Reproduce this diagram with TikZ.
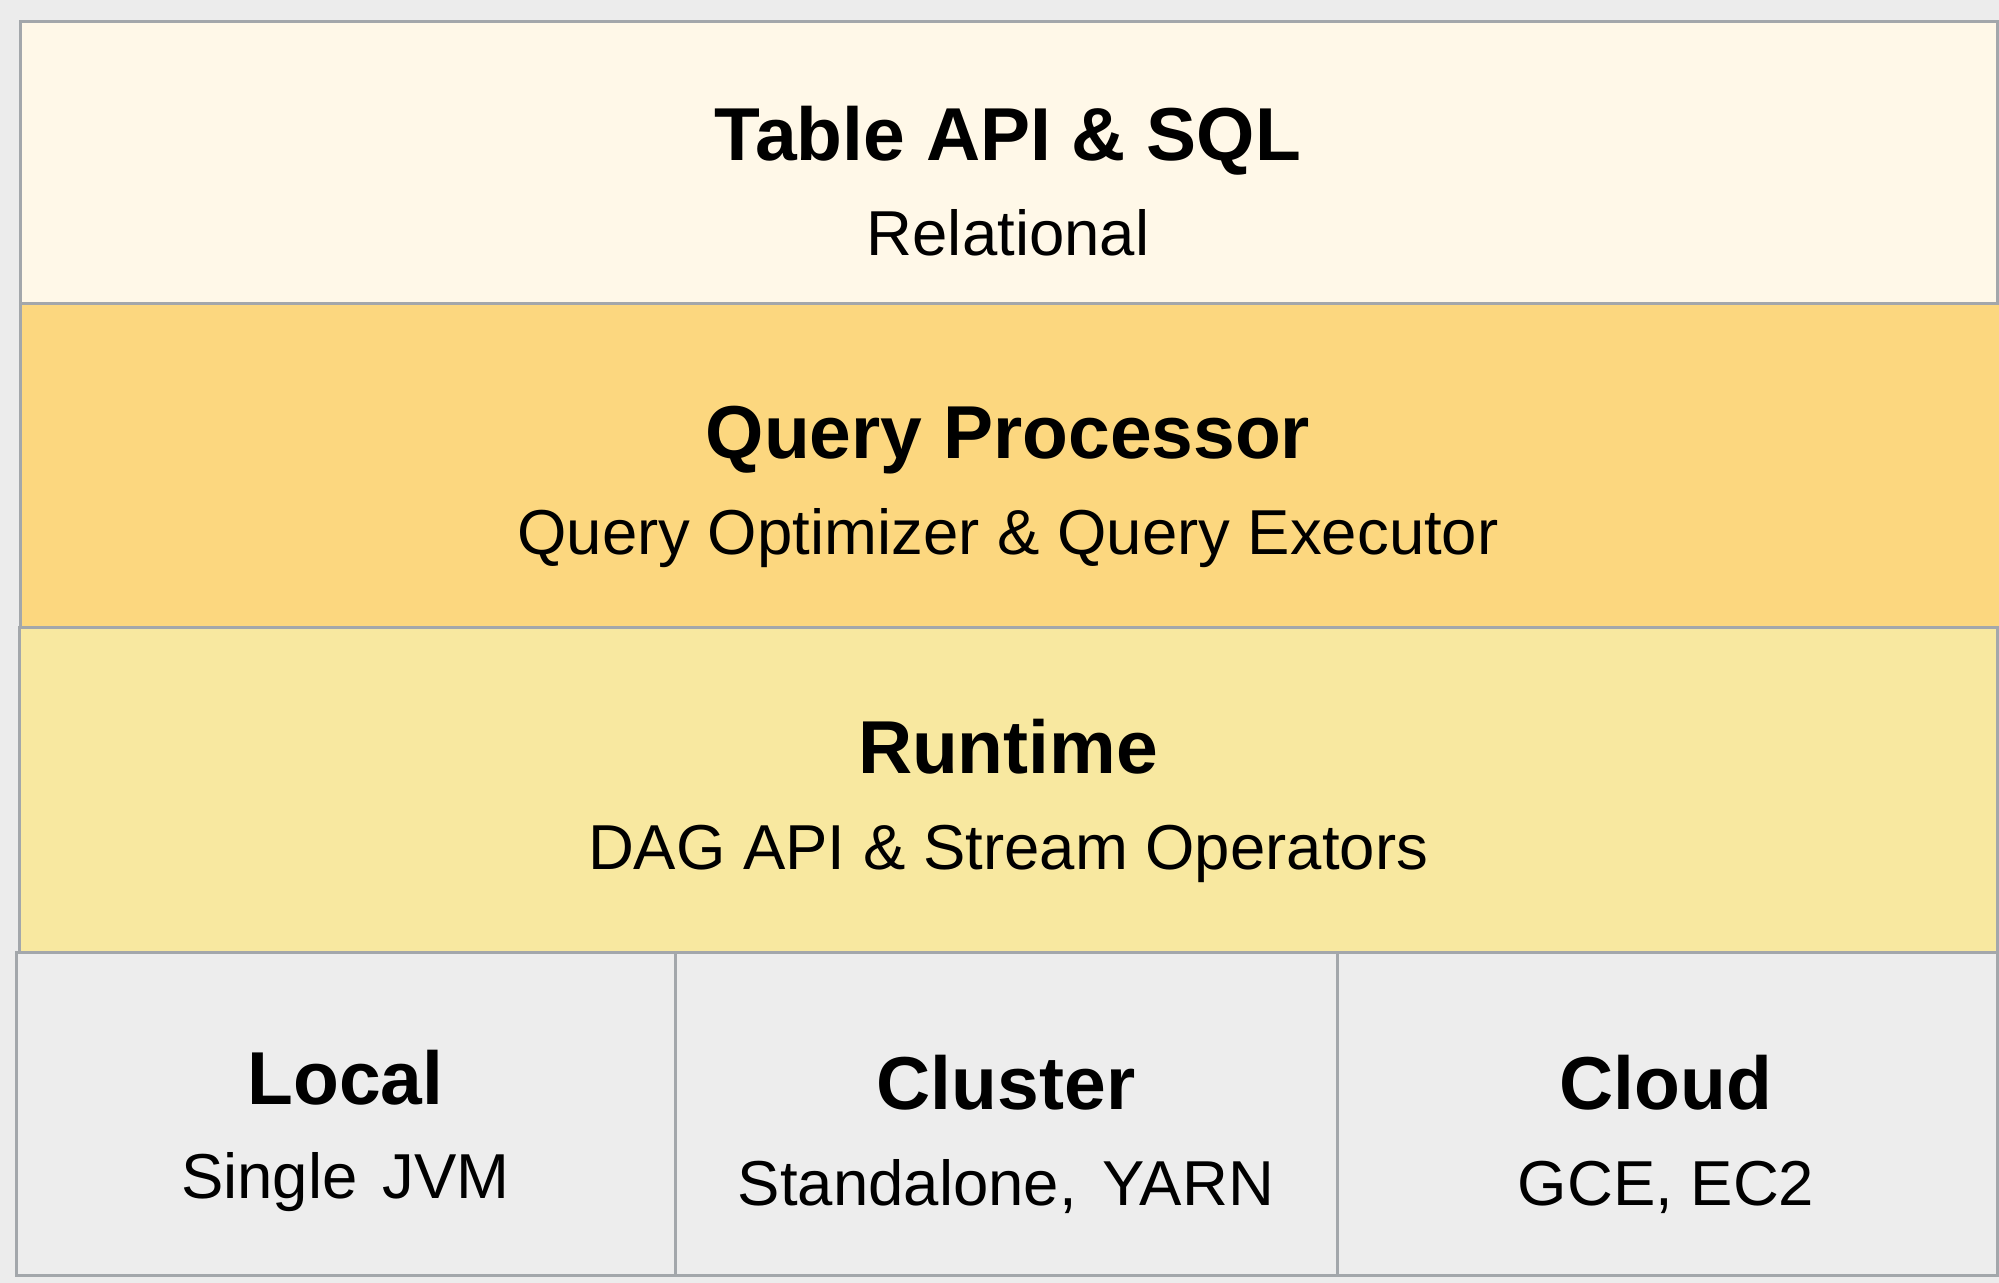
\documentclass[tikz,border=0pt]{standalone}
\usepackage{fontspec}
\setmainfont{Liberation Sans}
\usetikzlibrary{positioning}
\definecolor{fundo}{HTML}{ECECEC}
\definecolor{borda}{HTML}{A3A7AB}
\definecolor{creme}{HTML}{FFF8E8}
\definecolor{laranja}{HTML}{FCD77F}
\definecolor{amarelo}{HTML}{F8E8A0}
\definecolor{cinza}{HTML}{EDEDED}

\begin{document}
\begin{tikzpicture}[x=0.5pt,y=-0.5pt,
    camada/.style={draw=borda,line width=1.5pt,inner sep=0pt,outer sep=0pt,anchor=north west},
    titulo/.style={font=\fontsize{37.5}{45}\selectfont\bfseries,anchor=base,inner sep=0pt},
    subtitulo/.style={font=\fontsize{31.75}{38}\selectfont,anchor=base,inner sep=0pt}]
    % fundo
    \useasboundingbox (0,0) rectangle (1999,1283);
    \fill[fundo] (0,0) rectangle (1999,1283);

    % camadas
    \node[camada,fill=creme,minimum width=988.5pt,minimum height=141pt] (tabela) at (20,22) {};
    \node[camada,fill=laranja,minimum width=992pt,minimum height=162pt] (consulta) at (20,304) {};
    \node[camada,fill=amarelo,minimum width=989pt,minimum height=162pt] (runtime) at (19,628) {};

    \node[titulo] (tabelatit) at (1008,161) {Table API \& SQL};
    \node[subtitulo] (tabelasub) at (1008,256) {Relational};

    \node[titulo] (consultatit) at (1008,459) {Query Processor};
    \node[subtitulo] (consultasub) at (1008,555) {Query Optimizer \& Query Executor};

    \node[titulo] (runtimetit) at (1008,773) {Runtime};
    \node[subtitulo] (runtimesub) at (1008,869) {DAG API \& Stream Operators};

    % implantacao
    \node[camada,fill=cinza,minimum width=329.5pt,minimum height=161.5pt] (local) at (16,952) {};
    \node[camada,fill=cinza,minimum width=331pt,minimum height=161.5pt] (cluster) at (675,952) {};
    \node[camada,fill=cinza,minimum width=330pt,minimum height=161.5pt] (cloud) at (1337,952) {};

    \node[titulo] (localtit) at (345.5,1104) {Local};
    \node[subtitulo] (localsub) at (345.5,1198) {Single\hspace{0.4em}JVM};

    \node[titulo] (clustertit) at (1006,1109) {Cluster};
    \node[subtitulo] (clustersub) at (1006,1205) {Standalone,\hspace{0.4em}YARN};

    \node[titulo] (cloudtit) at (1666,1109) {Cloud};
    \node[subtitulo] (cloudsub) at (1666,1205) {GCE, EC2};
\end{tikzpicture}
\end{document}
